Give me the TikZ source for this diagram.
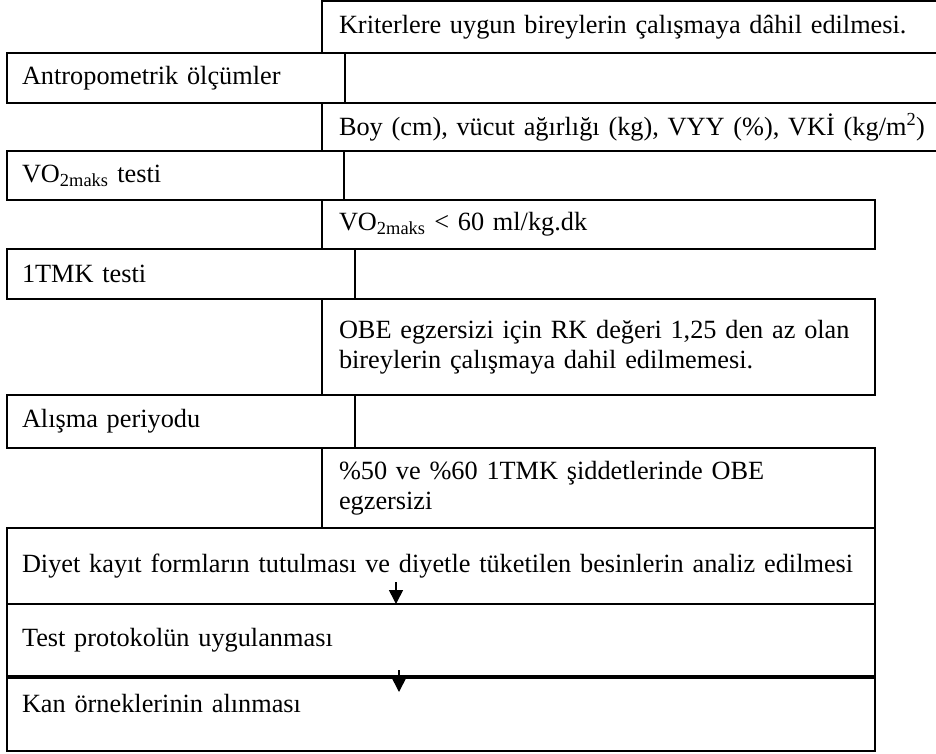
\documentclass[tikz,border=0pt]{standalone}
\usepackage{fontspec}
\setmainfont{Liberation Serif}
\usetikzlibrary{arrows.meta,positioning}

\begin{document}
\begin{tikzpicture}[
  x=1pt, y=-1pt,
  cell/.style={draw=black,line width=1.6pt,rectangle,anchor=north west,
               outer sep=0pt,inner xsep=15pt,inner ysep=0pt,align=left,
               font=\fontsize{26.3}{30}\selectfont},
  rcell/.style={cell,inner xsep=17pt},
  arr/.style={-{Triangle[length=14pt,width=14pt]},line width=1.6pt}
]
  \useasboundingbox (0,0) rectangle (936,753);

  % Right column
  \node[rcell,text width=589pt,minimum height=52pt] (krit)  at (322,1)
       {Kriterlere uygun bireylerin çalışmaya dâhil edilmesi.};
  \node[rcell,text width=589pt,minimum height=48pt] (boy)   at (322,103)
       {Boy (cm), vücut ağırlığı (kg), VYY (\%), VKİ (kg/m\textsuperscript{2})};
  \node[rcell,text width=519pt,minimum height=49pt] (vosin) at (322,200)
       {VO\textsubscript{2maks} < 60 ml/kg.dk};
  \node[rcell,text width=519pt,minimum height=96pt] (obe)   at (322,299)
       {OBE egzersizi için RK değeri 1,25 den az olan\\bireylerin çalışmaya dahil edilmemesi.};
  \node[rcell,text width=519pt,minimum height=80pt] (yuzde) at (322,448)
       {\%50 ve \%60 1TMK şiddetlerinde OBE\\egzersizi};

  % Left column
  \node[cell,text width=308pt,minimum height=50pt] (antro) at (7,53)  {Antropometrik ölçümler};
  \node[cell,text width=307pt,minimum height=49pt] (vo)    at (7,151) {VO\textsubscript{2maks} testi};
  \node[cell,text width=318pt,minimum height=50pt] (tmk)   at (7,249) {1TMK testi};
  \node[cell,text width=318pt,minimum height=53pt] (alis)  at (7,395) {Alışma periyodu};

  % Full width
  \node[cell,text width=838pt,minimum height=76pt] (diyet) at (7,528)
       {Diyet kayıt formların tutulması ve diyetle tüketilen besinlerin analiz edilmesi};
  \node[cell,text width=838pt,minimum height=72pt] (test)  at (7,604) {Test protokolün uygulanması};
  \node[cell,text width=838pt,minimum height=73pt,text depth=22pt] (kan) at (7,678)
       {Kan örneklerinin alınması};

  % Arrows
  \coordinate (d1) at (396,582);
  \coordinate (t1) at (399,670);
  \coordinate (k1) at (399,692);
  \draw[arr] (d1) -- (d1 |- diyet.south);
  \draw[arr] (t1) -- (k1);
\end{tikzpicture}
\end{document}
